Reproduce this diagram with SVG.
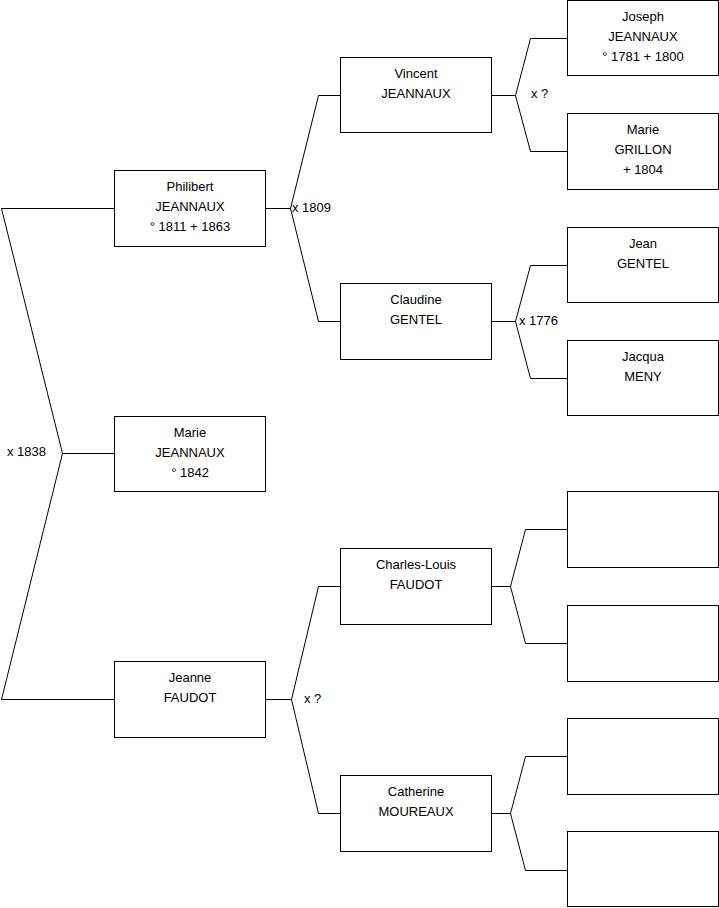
<svg xmlns="http://www.w3.org/2000/svg" width="719" height="908" viewBox="0 0 719 908">
<style>
.box{fill:#fff;stroke:#000;stroke-width:1}
.ln{fill:none;stroke:#000;stroke-width:1}
text{font-family:"Liberation Sans",Arial,sans-serif;font-size:13px;fill:#000}
.c{text-anchor:middle}
</style>
<rect width="719" height="908" fill="#fff"/>
<g id="connectors">
<path class="ln" d="M114,208.5 H1.5 L62.5,453.5 L1.5,699.5 H114 M62.5,453.5 H114"/>
<path class="ln" d="M265,208.5 H290.5 L318.5,95.5 H341 M290.5,208.5 L318.5,321.5 H341"/>
<path class="ln" d="M491,95.5 H515.5 L530.5,38.5 H567 M515.5,95.5 L530.5,151.5 H567"/>
<path class="ln" d="M491,321.5 H515.5 L530.5,265.5 H567 M515.5,321.5 L530.5,378.5 H567"/>
<path class="ln" d="M265,699.5 H291.5 L318.5,586.5 H341 M291.5,699.5 L318.5,813.5 H341"/>
<path class="ln" d="M491,586.5 H510.5 L525.5,529.5 H567 M510.5,586.5 L525.5,643.5 H567"/>
<path class="ln" d="M491,813.5 H510.5 L525.5,756.5 H567 M510.5,813.5 L525.5,870.5 H567"/>
<text x="7" y="456">x 1838</text>
<text x="292" y="212">x 1809</text>
<text x="531" y="98">x ?</text>
<text x="519" y="325">x 1776</text>
<text x="304" y="703">x ?</text>
</g>
<g id="philibert"><rect class="box" x="114.5" y="170.5" width="151" height="76"/>
<text class="c" x="190" y="191">Philibert</text><text class="c" x="190" y="211">JEANNAUX</text><text class="c" x="190" y="231">° 1811 + 1863</text></g>
<g id="marie-jeannaux"><rect class="box" x="114.5" y="416.5" width="151" height="75"/>
<text class="c" x="190" y="437">Marie</text><text class="c" x="190" y="457">JEANNAUX</text><text class="c" x="190" y="477">° 1842</text></g>
<g id="jeanne"><rect class="box" x="114.5" y="661.5" width="151" height="76"/>
<text class="c" x="190" y="682">Jeanne</text><text class="c" x="190" y="702">FAUDOT</text></g>
<g id="vincent"><rect class="box" x="340.5" y="57.5" width="151" height="75"/>
<text class="c" x="416" y="78">Vincent</text><text class="c" x="416" y="98">JEANNAUX</text></g>
<g id="claudine"><rect class="box" x="340.5" y="283.5" width="151" height="76"/>
<text class="c" x="416" y="304">Claudine</text><text class="c" x="416" y="324">GENTEL</text></g>
<g id="charles-louis"><rect class="box" x="340.5" y="548.5" width="151" height="76"/>
<text class="c" x="416" y="569">Charles-Louis</text><text class="c" x="416" y="589">FAUDOT</text></g>
<g id="catherine"><rect class="box" x="340.5" y="775.5" width="151" height="76"/>
<text class="c" x="416" y="796">Catherine</text><text class="c" x="416" y="816">MOUREAUX</text></g>
<g id="joseph"><rect class="box" x="567.5" y="0.5" width="151" height="75"/>
<text class="c" x="643" y="21">Joseph</text><text class="c" x="643" y="41">JEANNAUX</text><text class="c" x="643" y="61">° 1781 + 1800</text></g>
<g id="marie-grillon"><rect class="box" x="567.5" y="113.5" width="151" height="76"/>
<text class="c" x="643" y="134">Marie</text><text class="c" x="643" y="154">GRILLON</text><text class="c" x="643" y="174">+ 1804</text></g>
<g id="jean"><rect class="box" x="567.5" y="227.5" width="151" height="75"/>
<text class="c" x="643" y="248">Jean</text><text class="c" x="643" y="268">GENTEL</text></g>
<g id="jacqua"><rect class="box" x="567.5" y="340.5" width="151" height="75"/>
<text class="c" x="643" y="361">Jacqua</text><text class="c" x="643" y="381">MENY</text></g>
<g id="empty1"><rect class="box" x="567.5" y="491.5" width="151" height="76"/></g>
<g id="empty2"><rect class="box" x="567.5" y="605.5" width="151" height="76"/></g>
<g id="empty3"><rect class="box" x="567.5" y="718.5" width="151" height="76"/></g>
<g id="empty4"><rect class="box" x="567.5" y="831.5" width="151" height="75"/></g>
</svg>
